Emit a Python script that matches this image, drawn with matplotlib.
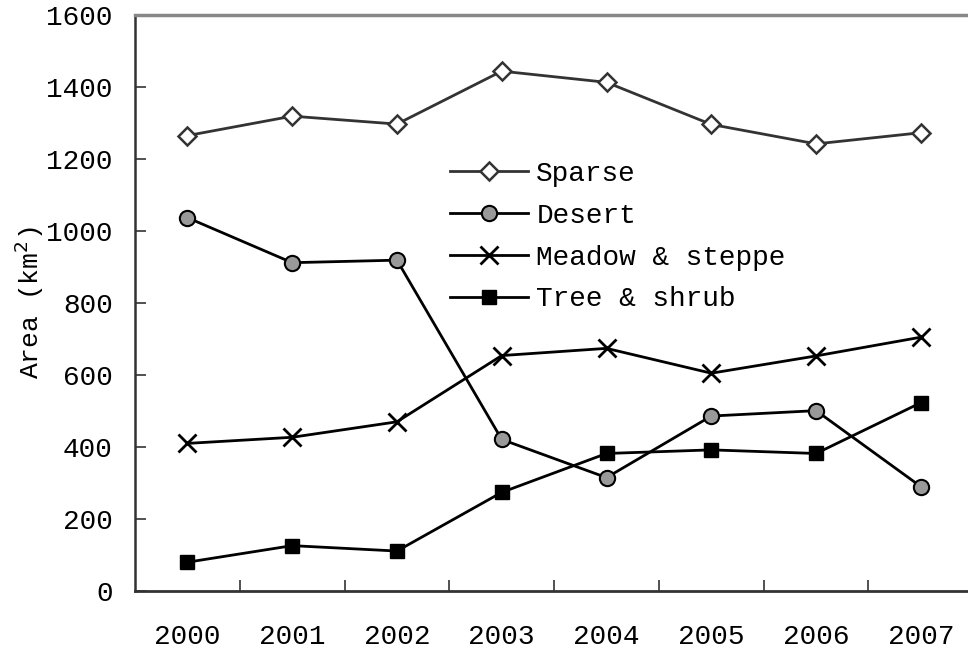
import matplotlib
matplotlib.use("Agg")
import matplotlib.pyplot as plt
import numpy as np

plt.rcParams['font.family'] = ['Liberation Mono', 'DejaVu Sans']

years = ['2000', '2001', '2002', '2003', '2004', '2005', '2006', '2007']
sparse = [1265, 1319, 1297, 1444, 1413, 1296, 1242, 1273]
desert = [1037, 912, 919, 421, 315, 486, 501, 290]
meadow = [410, 427, 470, 654, 674, 605, 653, 705]
tree = [80, 126, 111, 274, 382, 392, 382, 523]

fig = plt.figure(figsize=(9.68, 6.51), dpi=100)
ax = fig.add_axes([135/968, 1 - 591/651, (968-135)/968, (591-15)/651])

x = np.arange(len(years))
ax.plot(x, sparse, color='#333333', lw=2, marker='D', ms=9, mfc='white',
        mec='#333333', mew=1.8, label='Sparse')
ax.plot(x, desert, color='black', lw=2, marker='o', ms=11, mfc='#999999',
        mec='black', mew=1.5, label='Desert')
ax.plot(x, meadow, color='black', lw=2, marker='x', ms=13, mew=2,
        label='Meadow & steppe')
ax.plot(x, tree, color='black', lw=2, marker='s', ms=10, mfc='black',
        mec='black', label='Tree & shrub')

ax.set_xlim(-0.5, 7.45)
ax.set_ylim(0, 1600)
ax.set_yticks(range(0, 1601, 200))
ax.set_xticks(x)
ax.set_xticklabels(years)
ax.set_xticks(np.arange(0.5, 7, 1), minor=True)

ax.tick_params(axis='y', direction='in', length=8, width=1.2, color='#333333',
               labelsize=20, pad=16)
ax.tick_params(axis='x', which='major', length=0, labelsize=20, pad=24)
ax.tick_params(axis='x', which='minor', direction='in', length=8, width=1.2,
               color='#333333')

ax.spines['right'].set_visible(False)
ax.spines['top'].set_color('#888888')
ax.spines['top'].set_linewidth(2.5)
ax.spines['left'].set_color('#333333')
ax.spines['left'].set_linewidth(1.8)
ax.spines['bottom'].set_color('#333333')
ax.spines['bottom'].set_linewidth(2)

ax.set_ylabel('Area (km$^2$)', fontsize=19, labelpad=0)

ax.legend(loc='upper left', bbox_to_anchor=(0.365, 0.766), frameon=False,
          fontsize=20, handlelength=2.8, handletextpad=0.3, labelspacing=0.57,
          borderaxespad=0)

fig.savefig('out.png', dpi=100)
